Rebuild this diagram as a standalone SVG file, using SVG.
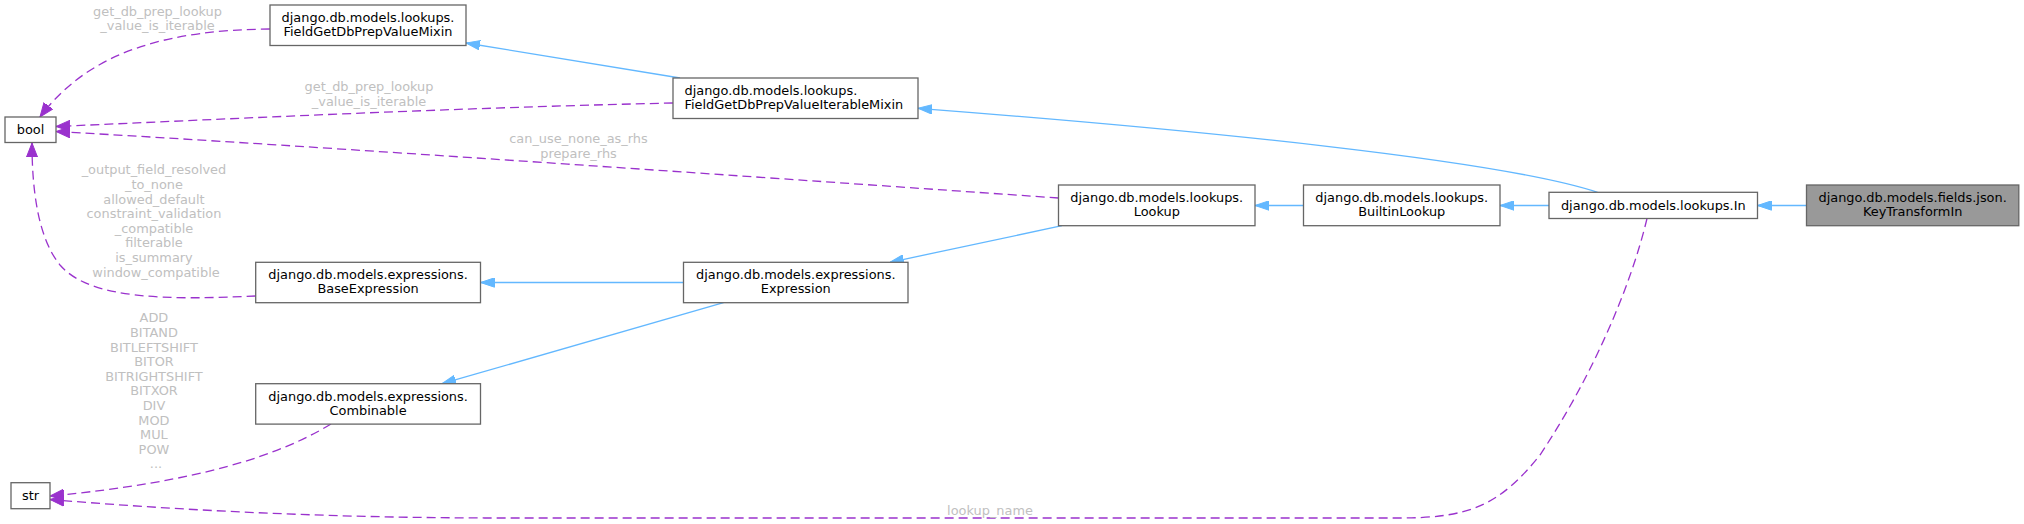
<svg xmlns="http://www.w3.org/2000/svg" width="2024" height="524" viewBox="0 0 2024 524">
<style>
  .node rect { fill: #ffffff; stroke: #666666; stroke-width: 1.3; }
  .node.main rect { fill: #999999; }
  .node text { font-family: "DejaVu Sans", "Liberation Sans", sans-serif; font-size: 12.9px; fill: #000000; text-anchor: middle; }
  .node text.left { text-anchor: start; }
  .inh { fill: none; stroke: #63B8FF; stroke-width: 1.3; marker-end: url(#arrBlue); }
  .use { fill: none; stroke: #9A32CD; stroke-width: 1.3; stroke-dasharray: 9,5; marker-end: url(#arrPurple); }
  .lbl { font-family: "DejaVu Sans", "Liberation Sans", sans-serif; font-size: 12.9px; fill: #c0c0c0; text-anchor: middle; }
</style>
<defs>
  <marker id="arrBlue" viewBox="0 0 14 10" refX="14" refY="5" markerWidth="14" markerHeight="10" markerUnits="userSpaceOnUse" orient="auto">
    <path d="M0,0.3 L14,5 L0,9.7 z" fill="#63B8FF" stroke="#63B8FF" stroke-width="1"/>
  </marker>
  <marker id="arrPurple" viewBox="0 0 14 12" refX="14" refY="6" markerWidth="14" markerHeight="12" markerUnits="userSpaceOnUse" orient="auto">
    <path d="M0,0.5 L14,6 L0,11.5 z" fill="#9A32CD" stroke="#9A32CD" stroke-width="1"/>
  </marker>
</defs>
<rect x="0" y="0" width="2024" height="524" fill="#ffffff"/>

<g id="connectors">
  <!-- inheritance -->
  <path class="inh" d="M680,78 L466,43"/>
  <path class="inh" d="M1597.6,192.3 C1500,160 1200,130 918,108.3"/>
  <path class="inh" d="M1303.5,205.5 L1255,205.5"/>
  <path class="inh" d="M1549,205.5 L1500,205.5"/>
  <path class="inh" d="M1806.5,205.5 L1757.5,205.5"/>
  <path class="inh" d="M1062,225.7 L890,262.3"/>
  <path class="inh" d="M683.5,282.5 L480.5,282.5"/>
  <path class="inh" d="M723.5,302.7 L442,383.7"/>
  <!-- usage -->
  <path class="use" d="M270,29 C170,30 90,50 40,117"/>
  <path class="use" d="M673,103 C450,108 250,118 56,126.5"/>
  <path class="use" d="M1058.5,198 C800,180 300,145 56,131.5"/>
  <path class="use" d="M255.7,296 C170,300 90,300 60,265 C38,238 32,190 32,143"/>
  <path class="use" d="M331,424 C280,455 200,482 50,496"/>
  <path class="use" d="M1647,218.5 C1630,290 1590,380 1540,455 C1500,505 1470,518 1400,518 L500,518 C350,518 200,512 50,499.5"/>
  <!-- labels -->
  <text class="lbl" x="157.5" y="15.7">get_db_prep_lookup</text>
  <text class="lbl" x="157.5" y="30.3">_value_is_iterable</text>
  <text class="lbl" x="369" y="91">get_db_prep_lookup</text>
  <text class="lbl" x="369" y="105.6">_value_is_iterable</text>
  <text class="lbl" x="578.5" y="143.3">can_use_none_as_rhs</text>
  <text class="lbl" x="578.5" y="157.9">prepare_rhs</text>
  <text class="lbl" x="156">
    <tspan x="156" y="174.3">_output_field_resolved</tspan>
    <tspan x="156" y="188.9">_to_none</tspan>
    <tspan x="156" y="203.5">allowed_default</tspan>
    <tspan x="156" y="218.1">constraint_validation</tspan>
    <tspan x="156" y="232.7">_compatible</tspan>
    <tspan x="156" y="247.3">filterable</tspan>
    <tspan x="156" y="261.9">is_summary</tspan>
    <tspan x="156" y="276.5">window_compatible</tspan>
  </text>
  <text class="lbl" x="156">
    <tspan x="156" y="322.3">ADD</tspan>
    <tspan x="156" y="336.9">BITAND</tspan>
    <tspan x="156" y="351.5">BITLEFTSHIFT</tspan>
    <tspan x="156" y="366.1">BITOR</tspan>
    <tspan x="156" y="380.7">BITRIGHTSHIFT</tspan>
    <tspan x="156" y="395.3">BITXOR</tspan>
    <tspan x="156" y="409.9">DIV</tspan>
    <tspan x="156" y="424.5">MOD</tspan>
    <tspan x="156" y="439.1">MUL</tspan>
    <tspan x="156" y="453.7">POW</tspan>
    <tspan x="156" y="468.3">...</tspan>
  </text>
  <text class="lbl" x="990" y="514.5">lookup_name</text>
</g>

<g id="node-FieldGetDbPrepValueMixin" class="node">
  <rect x="270" y="5" width="196" height="40.5"/>
  <text x="368" y="21.8">django.db.models.lookups.</text>
  <text x="368" y="35.8">FieldGetDbPrepValueMixin</text>
</g>
<g id="node-FieldGetDbPrepValueIterableMixin" class="node">
  <rect x="673" y="78" width="245" height="40.5"/>
  <text class="left" x="684.5" y="94.8">django.db.models.lookups.</text>
  <text class="left" x="684.5" y="108.8">FieldGetDbPrepValueIterableMixin</text>
</g>
<g id="node-bool" class="node">
  <rect x="5" y="117" width="51" height="25.5"/>
  <text x="30.5" y="134.3">bool</text>
</g>
<g id="node-Lookup" class="node">
  <rect x="1058.5" y="185" width="196.5" height="40.7"/>
  <text x="1156.75" y="201.8">django.db.models.lookups.</text>
  <text x="1156.75" y="215.8">Lookup</text>
</g>
<g id="node-BuiltinLookup" class="node">
  <rect x="1303.5" y="185" width="196.5" height="40.7"/>
  <text x="1401.75" y="201.8">django.db.models.lookups.</text>
  <text x="1401.75" y="215.8">BuiltinLookup</text>
</g>
<g id="node-In" class="node">
  <rect x="1549" y="192.3" width="208.5" height="26.2"/>
  <text x="1653.25" y="209.8">django.db.models.lookups.In</text>
</g>
<g id="node-KeyTransformIn" class="node main">
  <rect x="1806.5" y="185" width="212.3" height="40.7"/>
  <text x="1912.65" y="201.8">django.db.models.fields.json.</text>
  <text x="1912.65" y="215.8">KeyTransformIn</text>
</g>
<g id="node-BaseExpression" class="node">
  <rect x="255.7" y="262.3" width="224.8" height="40.4"/>
  <text x="368.1" y="279.1">django.db.models.expressions.</text>
  <text x="368.1" y="293.1">BaseExpression</text>
</g>
<g id="node-Expression" class="node">
  <rect x="683.5" y="262.3" width="224.5" height="40.4"/>
  <text x="795.75" y="279.1">django.db.models.expressions.</text>
  <text x="795.75" y="293.1">Expression</text>
</g>
<g id="node-Combinable" class="node">
  <rect x="255.7" y="383.7" width="224.8" height="40.4"/>
  <text x="368.1" y="400.5">django.db.models.expressions.</text>
  <text x="368.1" y="414.5">Combinable</text>
</g>
<g id="node-str" class="node">
  <rect x="11" y="482.7" width="39" height="26"/>
  <text x="30.5" y="500">str</text>
</g>
</svg>
